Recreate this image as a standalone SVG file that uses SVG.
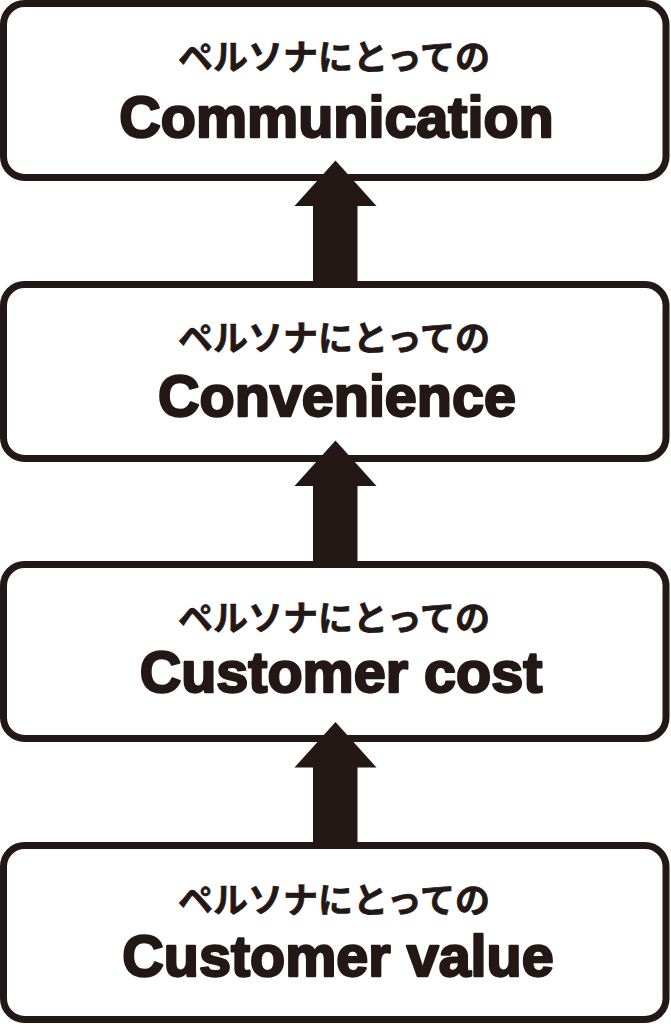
<svg xmlns="http://www.w3.org/2000/svg" width="671" height="1024" viewBox="0 0 671 1024">
  <style>
    .box { fill: #ffffff; stroke: #231815; stroke-width: 7; }
    .jp { font-family: "Noto Sans CJK JP", "Noto Sans CJK SC", sans-serif; font-size: 35px; font-weight: 700; fill: #231815; stroke: #231815; stroke-width: 0.7; stroke-linejoin: round; text-anchor: middle; }
    .en { font-family: "Liberation Sans", Arial, sans-serif; font-size: 57.5px; font-weight: 700; fill: #231815; stroke: #231815; stroke-width: 2.4; stroke-linejoin: round; text-anchor: middle; }
    .arrow { fill: #231815; }
  </style>
  <rect width="671" height="1024" fill="#ffffff"/>
  <g id="node-communication">
    <rect class="box" x="3.5" y="3.5" width="662.5" height="174" rx="21"/>
    <text class="jp" x="334" y="70">ペルソナにとっての</text>
    <text class="en" x="336.5" y="136.5">Communication</text>
  </g>
  <g id="node-convenience">
    <rect class="box" x="3.5" y="284.5" width="662.5" height="174" rx="21"/>
    <text class="jp" x="334" y="351">ペルソナにとっての</text>
    <text class="en" x="337" y="416">Convenience</text>
  </g>
  <g id="node-customer-cost">
    <rect class="box" x="3.5" y="564.5" width="662.5" height="174" rx="21"/>
    <text class="jp" x="334" y="631">ペルソナにとっての</text>
    <text class="en" x="341" y="691.5">Customer cost</text>
  </g>
  <g id="node-customer-value">
    <rect class="box" x="3.5" y="845.5" width="662.5" height="174" rx="21"/>
    <text class="jp" x="334" y="913">ペルソナにとっての</text>
    <text class="en" x="338" y="976">Customer value</text>
  </g>
  <g id="connectors">
    <polygon class="arrow" points="335.5,160.5 376.5,206 357.5,206 357.5,285 313,285 313,206 294.5,206"/>
    <polygon class="arrow" points="335.5,440.5 376.5,486 357.5,486 357.5,565 313,565 313,486 294.5,486"/>
    <polygon class="arrow" points="335.5,722 376.5,767.5 357.5,767.5 357.5,846 313,846 313,767.5 294.5,767.5"/>
  </g>
</svg>
